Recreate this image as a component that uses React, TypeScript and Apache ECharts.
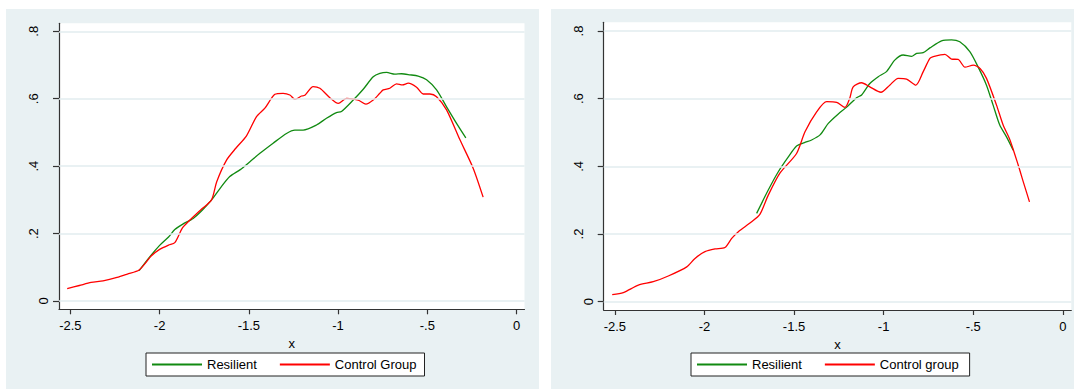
import React, { useEffect, useRef } from 'react';
import * as echarts from 'echarts';

// Axis ticks and labels (Stata style)
const xTicks = [-2.5, -2, -1.5, -1, -0.5, 0];
const xTickLabels = ['-2.5', '-2', '-1.5', '-1', '-.5', '0'];
const yTicks = [0, 0.2, 0.4, 0.6, 0.8];
const yTickLabels = ['0', '.2', '.4', '.6', '.8'];
const xTitle = 'x';

// Left panel
const leftResilientX = [-2.115, -2.06, -2.0, -1.95, -1.915, -1.87, -1.812, -1.76, -1.709, -1.66, -1.607, -1.55, -1.494, -1.438, -1.364, -1.289, -1.242, -1.196, -1.121, -1.065, -1.009, -0.981, -0.915, -0.859, -0.803, -0.766, -0.728, -0.682, -0.644, -0.598, -0.551, -0.504, -0.448, -0.392, -0.336, -0.284];
const leftResilientY = [0.09, 0.128, 0.165, 0.19, 0.212, 0.228, 0.245, 0.27, 0.3, 0.335, 0.369, 0.389, 0.413, 0.438, 0.468, 0.497, 0.507, 0.507, 0.522, 0.542, 0.559, 0.562, 0.596, 0.628, 0.665, 0.675, 0.678, 0.673, 0.674, 0.671, 0.667, 0.656, 0.626, 0.576, 0.527, 0.484];
const leftControlX = [-2.518, -2.45, -2.384, -2.317, -2.239, -2.181, -2.115, -2.046, -2.0, -1.95, -1.915, -1.873, -1.84, -1.766, -1.709, -1.68, -1.625, -1.573, -1.513, -1.457, -1.41, -1.354, -1.308, -1.27, -1.242, -1.205, -1.186, -1.14, -1.102, -1.046, -0.999, -0.952, -0.887, -0.844, -0.803, -0.766, -0.747, -0.71, -0.672, -0.639, -0.607, -0.56, -0.523, -0.485, -0.448, -0.392, -0.317, -0.243, -0.187];
const leftControlY = [0.037, 0.046, 0.055, 0.06, 0.07, 0.08, 0.092, 0.134, 0.153, 0.166, 0.173, 0.216, 0.235, 0.272, 0.3, 0.354, 0.418, 0.453, 0.49, 0.547, 0.572, 0.613, 0.616, 0.611, 0.598, 0.608, 0.61, 0.636, 0.631, 0.603, 0.586, 0.601, 0.596, 0.584, 0.596, 0.616, 0.626, 0.631, 0.644, 0.641, 0.646, 0.634, 0.614, 0.614, 0.606, 0.567, 0.478, 0.394, 0.308];

// Right panel
const rightResilientX = [-1.709, -1.644, -1.588, -1.532, -1.486, -1.442, -1.402, -1.355, -1.309, -1.253, -1.206, -1.151, -1.123, -1.077, -1.03, -0.984, -0.938, -0.891, -0.844, -0.816, -0.779, -0.742, -0.677, -0.621, -0.575, -0.519, -0.473, -0.426, -0.389, -0.352, -0.315, -0.277];
const rightResilientY = [0.261, 0.33, 0.384, 0.428, 0.46, 0.47, 0.478, 0.493, 0.527, 0.555, 0.575, 0.603, 0.611, 0.645, 0.665, 0.68, 0.714, 0.729, 0.725, 0.734, 0.736, 0.75, 0.771, 0.774, 0.768, 0.739, 0.694, 0.64, 0.581, 0.522, 0.488, 0.448];
const rightControlX = [-2.515, -2.453, -2.369, -2.286, -2.202, -2.099, -2.053, -1.997, -1.941, -1.886, -1.848, -1.811, -1.737, -1.69, -1.644, -1.579, -1.486, -1.439, -1.374, -1.318, -1.262, -1.216, -1.19, -1.17, -1.123, -1.077, -1.015, -0.966, -0.919, -0.872, -0.82, -0.779, -0.742, -0.723, -0.658, -0.621, -0.584, -0.546, -0.499, -0.463, -0.426, -0.37, -0.333, -0.295, -0.249, -0.221, -0.186];
const rightControlY = [0.021, 0.027, 0.049, 0.059, 0.076, 0.103, 0.128, 0.148, 0.156, 0.16, 0.187, 0.207, 0.236, 0.259, 0.315, 0.38, 0.438, 0.502, 0.561, 0.591, 0.589, 0.574, 0.6, 0.635, 0.647, 0.635, 0.619, 0.64, 0.66, 0.658, 0.64, 0.68, 0.719, 0.724, 0.731, 0.717, 0.716, 0.693, 0.699, 0.69, 0.66, 0.581, 0.522, 0.478, 0.404, 0.355, 0.295];

const zip = (xs: number[], ys: number[]) => xs.map((x, i) => [x, ys[i]]);
const findLabel = (vals: number[], labels: string[], v: number) => {
  const i = vals.findIndex((t) => Math.abs(t - v) < 1e-9);
  return i >= 0 ? labels[i] : '';
};

const FONT = '"Liberation Sans", Arial, sans-serif';
const GREEN = '#118a11';
const RED = '#ff0000';
const BG = '#e9f1f3';
const GRIDC = '#e2ecef';
const AXISC = '#333333';

export default function App() {
  const ref = useRef<HTMLDivElement>(null);
  useEffect(() => {
    if (!ref.current) return;
    const chart = echarts.init(ref.current, undefined, { renderer: 'svg' });

    const panels = [
      { grid: { left: 59, top: 23.3, width: 465.5, height: 286 }, xr: [-2.5639, 0.0448], yr: [-0.0246, 0.8237] },
      { grid: { left: 603.7, top: 22.3, width: 467.6, height: 287.7 }, xr: [-2.5625, 0.0474], yr: [-0.0245, 0.8257] },
    ];

    const grids = panels.map((p) => ({
      ...p.grid,
      show: true,
      backgroundColor: '#ffffff',
      borderWidth: 0,
      containLabel: false,
    }));

    const xAxes = panels.map((p, i) => ({
      type: 'value',
      gridIndex: i,
      min: p.xr[0],
      max: p.xr[1],
      name: xTitle,
      nameLocation: 'middle',
      nameGap: 24,
      nameTextStyle: { fontFamily: FONT, fontSize: 13, color: '#000' },
      axisLine: { show: true, onZero: false, lineStyle: { color: AXISC, width: 1.2 } },
      axisTick: { show: true, length: 5, customValues: xTicks, lineStyle: { color: AXISC, width: 1.2 } },
      axisLabel: {
        customValues: xTicks,
        margin: 10,
        fontFamily: FONT,
        fontSize: 13,
        color: '#000',
        formatter: (v: number) => findLabel(xTicks, xTickLabels, v),
      },
      splitLine: { show: false },
    }));

    const yAxes: any[] = [];
    panels.forEach((p, i) => {
      yAxes.push({
        type: 'value',
        gridIndex: i,
        position: 'left',
        min: p.yr[0],
        max: p.yr[1],
        axisLine: { show: true, onZero: false, lineStyle: { color: AXISC, width: 1.2 } },
        axisTick: { show: true, length: 6, customValues: yTicks, lineStyle: { color: AXISC, width: 1.2 } },
        axisLabel: {
          customValues: yTicks.filter((t) => t !== 0),
          rotate: 90,
          margin: 19,
          fontFamily: FONT,
          fontSize: 13,
          color: '#000',
          formatter: (v: number) => findLabel(yTicks, yTickLabels, v),
        },
        splitLine: { show: false },
      });
      yAxes.push({
        type: 'value',
        gridIndex: i,
        position: 'left',
        min: p.yr[0],
        max: p.yr[1],
        axisLine: { show: false },
        axisTick: { show: false },
        axisLabel: {
          customValues: yTicks.filter((t) => t === 0),
          rotate: 90,
          margin: 9,
          fontFamily: FONT,
          fontSize: 13,
          color: '#000',
          formatter: (v: number) => findLabel(yTicks, yTickLabels, v),
        },
        splitLine: { show: false },
      });
    });

    const lineSeries = (name: string, data: number[][], color: string, gi: number) => ({
      type: 'line',
      name,
      data,
      xAxisIndex: gi,
      yAxisIndex: gi * 2,
      showSymbol: false,
      symbol: 'none',
      smooth: 0.25,
      z: 3,
      lineStyle: { color, width: 1.3 },
      itemStyle: { color },
    });

    const gridLineSeries = (gi: number) => ({
      type: 'line',
      name: '__grid' + gi,
      data: [],
      xAxisIndex: gi,
      yAxisIndex: gi * 2,
      silent: true,
      z: 1,
      markLine: {
        silent: true,
        symbol: 'none',
        label: { show: false },
        lineStyle: { color: GRIDC, width: 1.5, type: 'solid' },
        data: yTicks.map((v) => ({ yAxis: v })),
      },
    });

    const legendBase = {
      orient: 'horizontal',
      icon: 'rect',
      itemWidth: 50,
      itemHeight: 2,
      itemGap: 23,
      borderColor: '#222',
      borderWidth: 1,
      borderRadius: 0,
      backgroundColor: '#ffffff',
      selectedMode: false,
      textStyle: { fontFamily: FONT, fontSize: 13, color: '#000' },
    };

    chart.setOption({
      animation: false,
      backgroundColor: '#ffffff',
      graphic: [
        { type: 'rect', z: -10, shape: { x: 6, y: 9, width: 533, height: 380 }, style: { fill: BG } },
        { type: 'rect', z: -10, shape: { x: 551, y: 9, width: 523, height: 380 }, style: { fill: BG } },
      ],
      grid: grids,
      xAxis: xAxes,
      yAxis: yAxes,
      legend: [
        { ...legendBase, data: ['Resilient', 'Control Group'], left: 146, top: 353, padding: [5, 8, 5, 6] },
        { ...legendBase, data: ['Resilient', 'Control group'], left: 691, top: 353, padding: [5, 11, 5, 6] },
      ],
      series: [
        gridLineSeries(0),
        gridLineSeries(1),
        lineSeries('Resilient', zip(leftResilientX, leftResilientY), GREEN, 0),
        lineSeries('Control Group', zip(leftControlX, leftControlY), RED, 0),
        lineSeries('Resilient', zip(rightResilientX, rightResilientY), GREEN, 1),
        lineSeries('Control group', zip(rightControlX, rightControlY), RED, 1),
      ],
    });
    return () => chart.dispose();
  }, []);
  return <div ref={ref} style={{ position: 'absolute', left: 0, top: 0, width: 1074, height: 389 }} />;
}
